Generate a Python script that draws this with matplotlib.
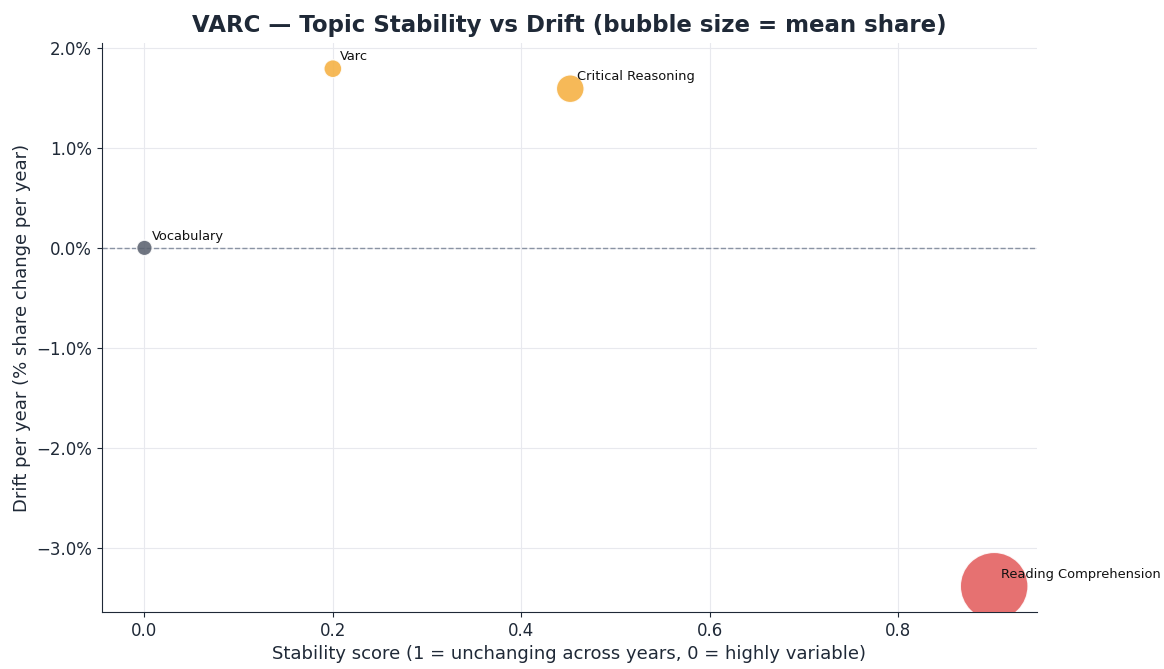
import numpy as np
import matplotlib
matplotlib.use("Agg")
import matplotlib.pyplot as plt
from matplotlib.ticker import FuncFormatter

# Topic data
topics = ["Vocabulary", "Varc", "Critical Reasoning", "Reading Comprehension"]
stability = [0.0, 0.2, 0.452, 0.902]
drift = [0.0, 1.79, 1.59, -3.38]          # % share change per year
mean_share = [0.052, 0.07, 0.168, 1.0]    # relative bubble size
colors = ["#5b6270", "#f5b041", "#f5b041", "#e35d5d"]

dark = "#1f2937"

fig = plt.figure(figsize=(11.64, 6.69), dpi=100)
ax = fig.add_axes([0.0876, 0.085, 0.803, 0.851])

sizes = np.array(mean_share) * 2380
ax.scatter(stability, drift, s=sizes, c=colors, alpha=0.88,
           edgecolors="white", linewidths=1.0, zorder=3)

for name, x, y in zip(topics, stability, drift):
    ax.annotate(name, (x, y), xytext=(5, 6), textcoords="offset points",
                fontsize=9.4, color="#111111", zorder=4)

ax.axhline(0, color="#8a93a3", linestyle="--", linewidth=1.0, zorder=2)

ax.grid(True, color="#e8e9ee", linewidth=0.8, zorder=0)
ax.set_axisbelow(True)
ax.set_xticks([0.0, 0.2, 0.4, 0.6, 0.8])
ax.set_yticks([-3, -2, -1, 0, 1, 2])
ax.yaxis.set_major_formatter(FuncFormatter(lambda v, p: f"{v:.1f}%".replace("-", "\u2212")))

for side in ["top", "right"]:
    ax.spines[side].set_visible(False)
for side in ["left", "bottom"]:
    ax.spines[side].set_color(dark)
ax.tick_params(colors=dark, labelsize=12)

ax.set_title("VARC \u2014 Topic Stability vs Drift (bubble size = mean share)",
             fontsize=16.5, fontweight="bold", color=dark, pad=8)
ax.set_xlabel("Stability score (1 = unchanging across years, 0 = highly variable)",
              fontsize=13, color=dark)
ax.set_ylabel("Drift per year (% share change per year)", fontsize=13, color=dark)

fig.savefig("out.png", dpi=100)
